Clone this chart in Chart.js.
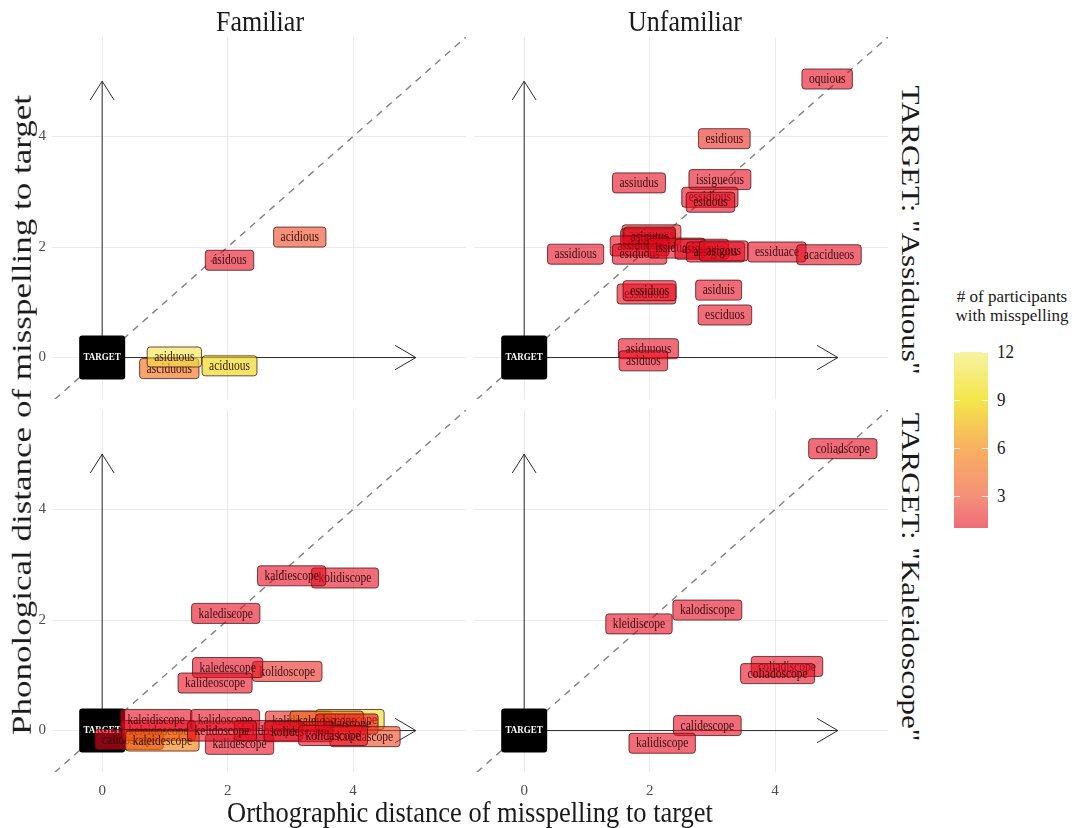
<!DOCTYPE html>
<html>
<head>
<meta charset="utf-8">
<script src="https://cdn.jsdelivr.net/npm/chart.js@4.4.1/dist/chart.umd.min.js"></script>
<style>
    body { margin: 0; background: #fff; width: 1083px; height: 828px; position: relative; overflow: hidden;
           font-family: "Liberation Serif", "Times New Roman", serif; color: #1a1a1a; }
    .panel { position: absolute; }
    .txt { position: absolute; white-space: nowrap; transform: translate(-50%, -50%); }
    #colorbar { position: absolute; left: 954px; top: 352px; width: 34px; height: 176px;
                background: linear-gradient(to top, #ef6c78 0%, #f5907a 18.2%, #f8b060 45.5%, #f3e64a 72.7%, #f7f2a2 100%); }
    .cbtick { position: absolute; height: 1px; width: 6px; background: rgba(255,255,255,0.8); }
    .cblab { position: absolute; left: 997px; font-size: 17px; transform: translateY(-50%) scaleY(1.15); color: #1a1a1a; }
</style>
</head>
<body>

<div class="panel" style="left:12px;top:37px"><canvas id="famAss" width="454" height="362"></canvas></div>
<div class="panel" style="left:474px;top:37px"><canvas id="unfAss" width="414" height="362"></canvas></div>
<div class="panel" style="left:12px;top:410px"><canvas id="famKal" width="454" height="392"></canvas></div>
<div class="panel" style="left:474px;top:410px"><canvas id="unfKal" width="414" height="392"></canvas></div>

<div class="txt" style="left:260px;top:22px;font-size:26px;transform:translate(-50%,-50%) scaleY(1.15)">Familiar</div>
<div class="txt" style="left:685px;top:22px;font-size:26px;transform:translate(-50%,-50%) scaleY(1.15)">Unfamiliar</div>
<div class="txt" style="left:910px;top:230px;font-size:31px;transform:translate(-50%,-50%) rotate(90deg) scaleY(0.78)">TARGET: "Assiduous"</div>
<div class="txt" style="left:910px;top:577px;font-size:31px;transform:translate(-50%,-50%) rotate(90deg) scaleY(0.78)">TARGET: "Kaleidoscope"</div>
<div class="txt" style="left:470px;top:812px;font-size:26.5px;transform:translate(-50%,-50%) scaleY(1.15)">Orthographic distance of misspelling to target</div>
<div class="txt" style="left:22px;top:415px;font-size:35px;transform:translate(-50%,-50%) rotate(-90deg) scaleY(0.76)">Phonological distance of misspelling to target</div>

<div class="txt" style="left:1012px;top:306px;font-size:17px;line-height:19px;text-align:center"># of participants<br>with misspelling</div>
<div id="colorbar"></div>
<div id="cbLabels"></div>

<script>
// shared axis setup
const xRange = [-0.8, 5.8];
const yRange = [-0.75, 5.8];
const tickVals = [0, 2, 4];
const diagonal = [-2, 8];
const arrowLen = 5;

// legend scale
const countRange = [1, 12];
const legendTicks = [3, 6, 9, 12];

// Familiar / "Assiduous"
const famAssWords = ['acidious', 'ásidous', 'asciduous', 'asiduous', 'aciduous'];
const famAssX = [3.15, 2.03, 1.07, 1.15, 2.03];
const famAssY = [2.18, 1.76, -0.2, 0.01, -0.15];
const famAssN = [3, 1, 5, 11, 9];

// Unfamiliar / "Assiduous"
const unfAssWords = ['oquious', 'esidious', 'assiudus', 'issigueous', 'essidious', 'esidous',
    'assiguous', 'asiguous', 'asigutus', 'assiduous', 'esiduous', 'issiduous', 'asigeous', 'assigeous', 'asigous',
    'assidious', 'essiduace', 'acacidueos', 'essiduous', 'essiduos', 'asiduis', 'esciduos', 'asiduuous', 'asiduos'];
const unfAssX = [4.83, 3.19, 1.83, 3.12, 2.96, 2.97,
    2.03, 1.97, 2.0, 1.84, 1.84, 2.43, 2.83, 3.05, 3.18,
    0.82, 4.03, 4.86, 1.95, 2.0, 3.1, 3.2, 1.98, 1.9];
const unfAssY = [5.04, 3.96, 3.16, 3.22, 2.9, 2.81,
    2.22, 2.15, 2.18, 2.02, 1.87, 1.98, 1.96, 1.91, 1.93,
    1.87, 1.91, 1.86, 1.15, 1.21, 1.22, 0.77, 0.16, -0.06];
const unfAssN = [1, 2, 1, 1, 1, 1,
    2, 1, 1, 1, 1, 1, 1, 1, 1,
    1, 1, 1, 1, 1, 1, 1, 1, 1];

// Familiar / "Kaleidoscope"
const famKalWords = ['kolidiscope', 'kaldiescope', 'kalediscope', 'kolidoscope', 'kaledescope', 'kalideoscope',
    'kalidescope', 'calidoscope', 'keleidoscope', 'kaleidescope', 'kaleidiscope', 'kalidoscope', 'kalidiscope',
    'kalidascope', 'kaleidascope', 'kalaiscope', 'celidoscope', 'kelidoscope', 'kaledascope', 'kolidescope', 'kolidascope'];
const famKalX = [3.87, 3.02, 1.97, 2.95, 2.0, 1.8,
    2.19, 0.43, 0.9, 0.96, 0.86, 1.96, 3.13,
    3.95, 3.58, 3.9, 2.65, 1.91, 4.19, 3.13, 3.68];
const famKalY = [2.76, 2.8, 2.12, 1.07, 1.14, 0.86,
    -0.25, -0.16, 0.0, -0.19, 0.2, 0.2, 0.17,
    0.2, 0.17, 0.12, 0.0, -0.01, -0.11, -0.02, -0.09];
const famKalN = [1, 1, 1, 2, 1, 1,
    1, 1, 1, 6, 1, 1, 2,
    10, 5, 1, 1, 1, 3, 1, 1];

// Unfamiliar / "Kaleidoscope"
const unfKalWords = ['coliadscope', 'kalodiscope', 'kleidiscope', 'coliadiscope', 'coliadoscope', 'calidescope', 'kalidiscope'];
const unfKalX = [5.08, 2.92, 1.83, 4.19, 4.04, 2.92, 2.2];
const unfKalY = [5.1, 2.18, 1.93, 1.16, 1.03, 0.09, -0.23];
const unfKalN = [1, 1, 1, 1, 1, 1, 1];

// fill colour per count (drawn at 60% opacity like the original labels)
const fillStops = [
    [1, [228, 10, 30]],
    [3, [238, 70, 33]],
    [6, [243, 123, 0]],
    [9, [235, 213, 0]],
    [12, [245, 233, 100]]
];

function countColor(n, alpha) {
    let i = 0;
    while (i < fillStops.length - 2 && n > fillStops[i + 1][0]) i++;
    const [n0, c0] = fillStops[i];
    const [n1, c1] = fillStops[i + 1];
    const t = Math.max(0, Math.min(1, (n - n0) / (n1 - n0)));
    const c = c0.map((v, k) => Math.round(v + (c1[k] - v) * t));
    return `rgba(${c[0]}, ${c[1]}, ${c[2]}, ${alpha})`;
}

function roundRect(ctx, x, y, w, h, r) {
    ctx.beginPath();
    ctx.moveTo(x + r, y);
    ctx.lineTo(x + w - r, y);
    ctx.quadraticCurveTo(x + w, y, x + w, y + r);
    ctx.lineTo(x + w, y + h - r);
    ctx.quadraticCurveTo(x + w, y + h, x + w - r, y + h);
    ctx.lineTo(x + r, y + h);
    ctx.quadraticCurveTo(x, y + h, x, y + h - r);
    ctx.lineTo(x, y + r);
    ctx.quadraticCurveTo(x, y, x + r, y);
    ctx.closePath();
}

// text drawn slightly taller than wide, like the original figure
function tallText(ctx, text, x, y) {
    ctx.save();
    ctx.translate(x, y);
    ctx.scale(1, 1.2);
    ctx.fillText(text, 0, 0);
    ctx.restore();
}

// draws the TARGET box and the misspelling labels at the points of the label dataset
const wordLabels = {
    id: 'wordLabels',
    afterDatasetsDraw(chart) {
        const ctx = chart.ctx;
        const idx = chart.data.datasets.findIndex(d => d.label === 'words');
        const meta = chart.getDatasetMeta(idx);
        const raw = chart.data.datasets[idx].data;
        const ox = chart.scales.x.getPixelForValue(0);
        const oy = chart.scales.y.getPixelForValue(0);

        ctx.save();
        roundRect(ctx, ox - 23, oy - 22, 46, 44, 3);
        ctx.fillStyle = '#000';
        ctx.fill();
        ctx.fillStyle = '#fff';
        ctx.font = 'bold 9px "Liberation Serif", serif';
        ctx.textAlign = 'center';
        ctx.textBaseline = 'middle';
        tallText(ctx, 'TARGET', ox, oy);

        ctx.font = '11.5px "Liberation Serif", serif';
        meta.data.forEach((pt, i) => {
            const d = raw[i];
            const w = ctx.measureText(d.word).width + 14;
            const h = 20;
            roundRect(ctx, pt.x - w / 2, pt.y - h / 2, w, h, 3);
            ctx.fillStyle = countColor(d.n, 0.6);
            ctx.fill();
            ctx.lineWidth = 1;
            ctx.strokeStyle = 'rgba(70, 15, 15, 0.75)';
            ctx.stroke();
            ctx.fillStyle = 'rgba(40, 5, 5, 0.9)';
            tallText(ctx, d.word, pt.x, pt.y + 0.5);
        });
        ctx.restore();
    }
};

// fixed axis sizes so the four plot areas line up exactly
function fixSize(s, size, horizontal) {
    if (horizontal) s.height = size; else s.width = size;
    s.paddingTop = 0;
    s.paddingBottom = 0;
    s.paddingLeft = 0;
    s.paddingRight = 0;
}

function makeScales(showX, showY) {
    const tickFont = { family: '"Liberation Serif", serif', size: 15 };
    return {
        x: {
            type: 'linear', min: xRange[0], max: xRange[1],
            afterBuildTicks: s => { s.ticks = tickVals.map(v => ({ value: v })); },
            afterFit: s => fixSize(s, showX ? 30 : 0, true),
            grid: { color: '#ebebeb', lineWidth: 1, drawTicks: false },
            border: { display: false },
            ticks: { display: showX, color: '#4d4d4d', font: tickFont, padding: 10 }
        },
        y: {
            type: 'linear', min: yRange[0], max: yRange[1],
            afterBuildTicks: s => { s.ticks = tickVals.map(v => ({ value: v })); },
            afterFit: s => fixSize(s, showY ? 40 : 0, false),
            grid: { color: '#ebebeb', lineWidth: 1, drawTicks: false },
            border: { display: false },
            ticks: { display: showY, color: '#4d4d4d', font: tickFont, padding: 6 }
        }
    };
}

function lineSet(points, color, width, dash) {
    return {
        type: 'line', data: points, borderColor: color, borderWidth: width, borderDash: dash || [],
        pointRadius: 0, fill: false, tension: 0
    };
}

function makePanel(id, words, xs, ys, ns, showX, showY) {
    const labels = words.map((w, i) => ({ x: xs[i], y: ys[i], word: w, n: ns[i] }));
    new Chart(document.getElementById(id), {
        type: 'scatter',
        data: {
            datasets: [
                lineSet(diagonal.map(v => ({ x: v, y: v })), '#808080', 1.4, [7, 6]),
                lineSet([{ x: 0, y: 0 }, { x: arrowLen, y: 0 }], '#2a2a2a', 1),
                lineSet([{ x: arrowLen - 0.33, y: 0.22 }, { x: arrowLen, y: 0 }, { x: arrowLen - 0.33, y: -0.22 }], '#2a2a2a', 1),
                lineSet([{ x: 0, y: 0 }, { x: 0, y: arrowLen }], '#2a2a2a', 1),
                lineSet([{ x: -0.19, y: arrowLen - 0.34 }, { x: 0, y: arrowLen }, { x: 0.19, y: arrowLen - 0.34 }], '#2a2a2a', 1),
                { label: 'words', data: labels, pointRadius: 0, showLine: false }
            ]
        },
        options: {
            responsive: false,
            animation: false,
            layout: { padding: 0, autoPadding: false },
            scales: makeScales(showX, showY),
            plugins: { legend: { display: false }, tooltip: { enabled: false } }
        },
        plugins: [wordLabels]
    });
}

makePanel('famAss', famAssWords, famAssX, famAssY, famAssN, false, true);
makePanel('unfAss', unfAssWords, unfAssX, unfAssY, unfAssN, false, false);
makePanel('famKal', famKalWords, famKalX, famKalY, famKalN, true, true);
makePanel('unfKal', unfKalWords, unfKalX, unfKalY, unfKalN, true, false);

// colour bar labels and tick marks
const bar = document.getElementById('colorbar');
const barTop = 352;
const barH = 176;
const cbLabels = document.getElementById('cbLabels');
legendTicks.forEach(v => {
    const top = barTop + (countRange[1] - v) / (countRange[1] - countRange[0]) * barH;
    const lab = document.createElement('div');
    lab.className = 'cblab';
    lab.style.top = top + 'px';
    lab.textContent = v;
    cbLabels.appendChild(lab);
    [0, 28].forEach(left => {
        const t = document.createElement('div');
        t.className = 'cbtick';
        t.style.left = left + 'px';
        t.style.top = (top - barTop) + 'px';
        bar.appendChild(t);
    });
});
</script>
</body>
</html>
